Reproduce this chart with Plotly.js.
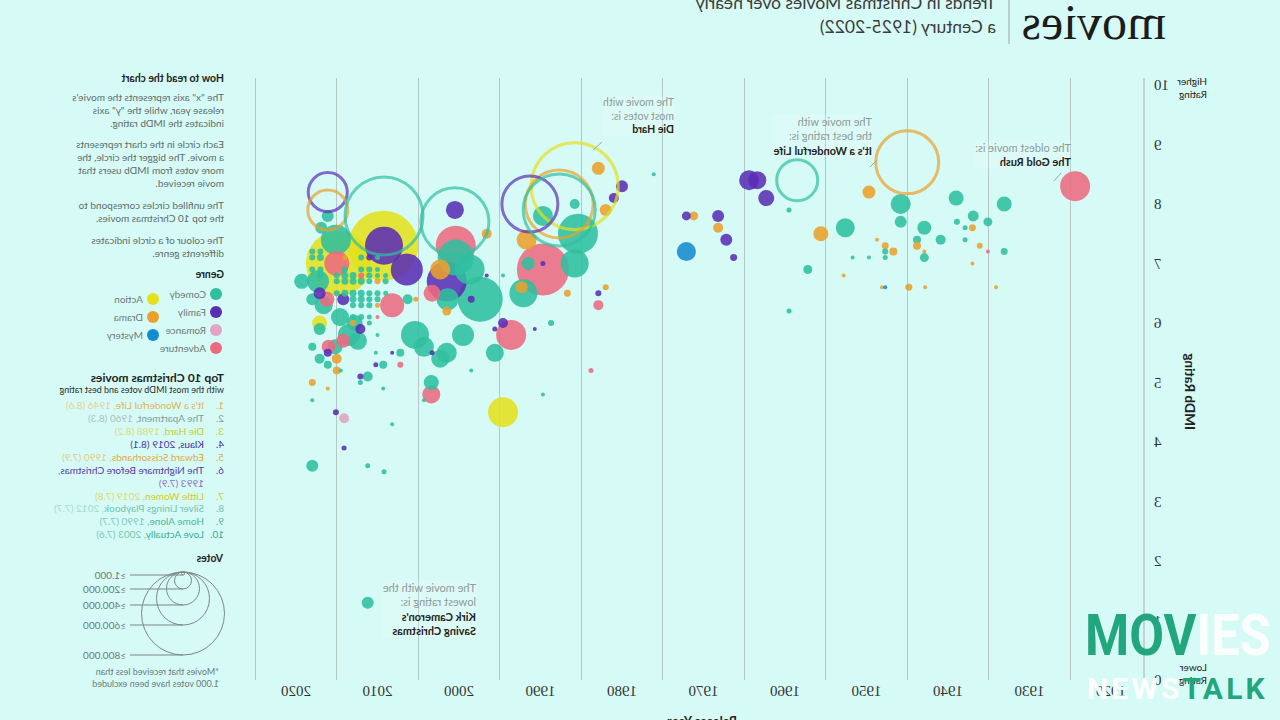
<!DOCTYPE html>
<html><head><meta charset="utf-8">
<script src="https://cdn.plot.ly/plotly-3.0.1.min.js"></script>
<style>
html,body{margin:0;padding:0;background:#d6faf5;width:1280px;height:720px;overflow:hidden;position:relative}
#chart{position:absolute;left:0;top:0;width:1280px;height:720px;transform:scaleX(-1);transform-origin:640px 360px}
#wm{position:absolute;left:1085px;top:606px;font-family:Roboto,"DejaVu Sans",sans-serif;font-weight:700;pointer-events:none}
#wm .l1{position:absolute;left:0;top:0;font-size:58px;line-height:58px;letter-spacing:0px;white-space:nowrap;transform:scaleX(0.87);transform-origin:0 0}
#wm .l2{position:absolute;left:2px;top:68px;font-size:30px;line-height:30px;letter-spacing:3.2px;white-space:nowrap}
#wm .g{color:#22a67e}
#wm .w{color:#ffffff;opacity:.95}
</style></head><body>
<div id="chart"></div>
<div id="wm"><div class="l1"><span class="g">MOV</span><span class="w">IES</span></div><div class="l2"><span class="w">NEWS</span><span class="g">TALK</span></div></div>
<script>
// ---------------- DATA ----------------
const genreNames  = ['Comedy','Family','Romance','Adventure','Action','Drama','Mystery'];
const genreColors = ['#2fbf9f','#5a2db5','#e2a3c4','#ec6a80','#e4e01c','#eaa12c','#148bd0'];

// all movies (filled circles): release year, IMDb rating, votes, genre
const years = [
1924.4,1933.1,1933.1,1934.1,1935.1,1935.1,1936.1,1936.9,1937.0,1937.0,1937.9,1937.9,1938.9,1939.0,1940.9,1942.9,1942.9,1942.9,1943.8,1943.8,
1942.8,1944.8,1945.8,1945.8,1946.7,1947.7,1947.7,1947.7,1948.1,1947.7,1948.7,1949.7,1949.7,1951.7,1952.8,1952.6,1955.6,1957.2,1959.5,1959.5,
1962.3,1963.4,1964.4,1966.3,1967.2,1968.2,1968.2,1971.2,1972.1,1972.1,1976.1,1982.9,1980.0,1981.0,1982.0,1985.8,1989.7,1985.4,1991.7,1989.7,
1991.5,1989.7,1985.8,1992.1,1992.3,1986.7,1997.4,1998.5,1999.5,1994.6,1995.6,1993.6,1995.6,1988.7,1990.7,1982.0,1982.9,1982.9,1983.8,1989.7,
1998.5,1996.6,1994.6,1996.6,1994.6,2000.4,2000.4,1998.7,2001.5,2002.3,2000.5,2003.3,2001.4,2001.5,2001.5,2002.3,2003.3,2003.4,2003.4,2004.3,
2008.2,2006.3,2005.3,2005.4,2004.3,2009.3,2014.8,2009.2,2006.4,2015.1,2016.1,2016.9,2015.0,2019.3,2017.3,2018.0,2017.1,2016.2,2016.6,2014.2,
2013.5,2012.4,2012.8,2014.6,2012.1,2013.0,2017.1,2017.1,2016.0,2014.2,2015.2,2018.0,2017.1,2016.1,2015.0,2016.1,2015.0,2014.5,2012.1,2011.2,
2012.1,2007.2,2007.2,2010.2,2010.2,2009.3,2008.2,2018.0,2016.1,2018.0,2015.1,2014.1,2008.2,2009.3,2014.1,2018.0,2011.2,2009.2,2011.2,
2018,2017,2018,2017,2014,2012,2011,2010,2018,2017,2014,2012,2011,2010,2017,2015,2014,2013,2012,2011,2010,2009,
2015,2014,2013,2012,2011,2010,2009,2015,2014,2013,2012,2011,2010,2009,2013,2012,2011,2010,2013,2012,2011,2010,2013,2012,2011,2011,2010,2010];
const ratings = [
8.3,8.0,7.2,6.6,7.7,7.2,7.3,7.8,7.6,7.0,7.6,7.4,7.7,8.1,7.4,7.6,7.1,7.2,7.4,7.3,
6.6,6.6,8.0,7.7,7.2,7.3,7.2,7.1,6.6,6.6,7.4,8.2,7.1,7.1,6.8,7.6,7.5,6.9,7.9,6.2,
8.1,8.4,8.4,7.1,7.4,7.6,7.8,7.8,7.8,7.2,8.5,8.6,8.3,8.1,7.9,8.0,7.8,7.5,7.4,6.9,
7.0,7.0,7.0,6.5,6.6,6.5,6.4,6.4,5.8,6.0,5.9,5.8,5.5,6.0,5.9,6.6,6.5,6.3,5.2,4.8,
5.2,6.8,6.8,7.5,4.5,7.3,7.1,6.9,6.7,6.9,7.9,6.5,6.4,6.2,5.5,5.4,5.5,5.0,4.8,4.7,
6.3,6.4,6.4,5.8,5.6,7.3,7.0,7.3,6.9,7.4,7.8,7.6,7.0,6.7,6.7,6.4,6.5,6.4,6.3,6.4,
5.8,5.7,6.0,6.1,5.9,6.0,6.0,5.9,5.6,5.7,5.6,5.6,5.4,5.5,5.4,5.3,5.2,5.2,5.1,5.1,
5.0,5.3,5.5,5.3,5.5,5.3,5.5,5.0,4.9,4.7,4.5,4.4,4.3,4.9,3.9,3.6,3.6,3.5,1.3,
7.2,7.2,7.1,7.1,7.1,7.1,7.1,7.1,6.9,6.9,6.9,6.9,6.9,6.9,6.8,6.8,6.8,6.8,6.8,6.8,6.8,6.8,
6.7,6.7,6.7,6.7,6.7,6.7,6.7,6.5,6.5,6.5,6.5,6.5,6.5,6.5,6.4,6.4,6.4,6.4,6.3,6.3,6.3,6.3,6.1,6.1,6.1,6.0,5.8,6.1];
const votes = [
107000,26800,5800,1900,9600,1100,4300,14400,5800,1900,3000,3000,4300,26800,11900,23300,9600,1900,7600,7600,
1100,5800,47600,17100,7600,5800,4300,3000,1100,1100,1900,20100,1900,1900,1900,43000,26800,9600,3000,3000,
30500,38600,47600,5800,17100,11900,17100,9600,9600,43000,1900,20100,17100,11900,17100,11900,47600,190000,47600,322000,
20100,3000,93000,93000,17100,5800,241000,5800,57600,11900,3000,107000,38600,4300,1900,4300,4300,11900,3000,1900,
1100,1900,1900,11900,107000,190000,154000,107000,190000,47600,38600,34000,57600,9600,47600,38600,3000,26800,38600,1900,
68500,11900,3000,93000,47600,583000,500000,172000,122000,107000,17100,17100,74000,26800,57600,17100,17100,26800,38600,17100,
57600,38600,30000,38600,11900,4300,26800,17100,23300,23300,26800,7600,11900,7600,11900,7600,7600,1900,4300,11900,
3000,4300,7600,3000,1900,7600,1900,5800,1900,1900,4300,11900,1900,1900,3000,17100,3000,3000,17100,
4300,4300,4300,5800,3000,4300,4300,3000,4300,4300,4300,4300,4300,3000,4300,4300,5800,5800,4300,4300,3000,3000,
4300,5800,5800,5800,4300,4300,4300,4300,5800,5800,5800,4300,4300,3000,5800,5800,4300,4300,4300,4300,4300,3000,4300,4300,3000,3000,1900,1900];
const genres = [
'Adventure','Comedy','Comedy','Drama','Comedy','Adventure','Drama','Comedy','Drama','Drama','Comedy','Comedy','Comedy','Comedy','Comedy','Comedy','Comedy','Drama','Comedy','Drama',
'Drama','Drama','Comedy','Comedy','Drama','Drama','Comedy','Comedy','Drama','Mystery','Drama','Drama','Comedy','Comedy','Drama','Comedy','Drama','Comedy','Comedy','Comedy',
'Family','Family','Family','Family','Family','Drama','Family','Drama','Family','Mystery','Comedy','Drama','Family','Family','Drama','Comedy','Comedy','Comedy','Drama','Adventure',
'Comedy','Family','Comedy','Comedy','Drama','Drama','Comedy','Family','Comedy','Family','Family','Adventure','Comedy','Comedy','Family','Drama','Family','Adventure','Adventure','Comedy',
'Comedy','Family','Comedy','Drama','Action','Adventure','Comedy','Comedy','Family','Drama','Family','Adventure','Comedy','Drama','Comedy','Comedy','Family','Comedy','Adventure','Comedy',
'Adventure','Comedy','Drama','Comedy','Comedy','Action','Action','Family','Family','Comedy','Comedy','Comedy','Adventure','Comedy','Comedy','Comedy','Family','Adventure','Comedy','Family',
'Comedy','Comedy','Comedy','Comedy','Family','Drama','Action','Comedy','Adventure','Adventure','Comedy','Comedy','Comedy','Family','Drama','Comedy','Drama','Comedy','Family','Comedy',
'Comedy','Adventure','Comedy','Family','Comedy','Comedy','Family','Drama','Drama','Comedy','Family','Romance','Comedy','Comedy','Family','Comedy','Comedy','Comedy','Comedy',
'Comedy','Comedy','Comedy','Comedy','Drama','Comedy','Family','Comedy','Comedy','Comedy','Comedy','Comedy','Comedy','Comedy','Comedy','Comedy','Comedy','Comedy','Adventure','Comedy','Comedy','Comedy',
'Comedy','Comedy','Comedy','Comedy','Comedy','Drama','Comedy','Comedy','Comedy','Comedy','Comedy','Comedy','Comedy','Comedy','Comedy','Comedy','Comedy','Comedy','Comedy','Comedy','Comedy','Drama','Comedy','Comedy','Comedy','Comedy','Comedy','Adventure'];

// top 10 Christmas movies (unfilled circles)
const topTitles  = ["It's a Wonderful Life","The Apartment","Die Hard","Klaus","Edward Scissorhands","The Nightmare Before Christmas","Little Women","Silver Linings Playbook","Home Alone","Love Actually"];
const topLabelYears   = [1946,1960,1988,2019,1990,1993,2019,2012,1990,2003];
const topLabelRatings = ['8.6','8.3','8.2','8.1','7.9','7.9','7.8','7.7','7.7','7.6'];
const topX      = [1945.0,1958.5,1985.8,2016.1,1987.7,1991.3,2016.1,2009.2,1987.7,2000.5];
const topY      = [8.7,8.4,8.3,8.2,8.0,8.0,7.9,7.8,7.9,7.7];
const topVotes  = [472000,200000,900000,181000,550000,373000,190000,724000,617000,550000];
const topGenres = ['Drama','Comedy','Action','Family','Drama','Family','Drama','Comedy','Comedy','Comedy'];

const xTickYears = [1920,1930,1940,1950,1960,1970,1980,1990,2000,2010,2020];
const xGridYears = [1925,1935,1945,1955,1965,1975,1985,1995,2005,2015,2025];
const yTicks = [0,1,2,3,4,5,6,7,8,9,10];
const voteLegendLabels = ['≥1.000','≥200.000','≥400.000','≥600.000','≥800.000'];

// ---------------- LAYOUT HELPERS ----------------
const L = 137, R = 1040, T = 78, B = 680;
const px = X => (X - L) / (R - L);
const py = Y => (B - Y) / (B - T);
const colorOf = g => genreColors[genreNames.indexOf(g)];
const K = 0.0917;               // px diameter per sqrt(vote)
const sizeref = 2 / (K * K);

const order = votes.map((v, i) => i).sort((a, b) => votes[b] - votes[a]);

const filled = {
  type: 'scatter', mode: 'markers', hoverinfo: 'skip',
  x: order.map(i => years[i]), y: order.map(i => ratings[i]),
  marker: {
    size: order.map(i => votes[i]), sizemode: 'area', sizeref: sizeref, sizemin: 2,
    color: order.map(i => colorOf(genres[i])), opacity: 0.88, line: {width: 0}
  }
};
const rings = {
  type: 'scatter', mode: 'markers', hoverinfo: 'skip',
  x: topX, y: topY, text: topTitles,
  marker: {
    symbol: 'circle-open', size: topVotes, sizemode: 'area', sizeref: sizeref,
    color: topGenres.map(colorOf), line: {width: 3}
  }
};

const gray = '#8c9c99', dark = '#1f2422', FONT = 'Lato, "Open Sans", sans-serif';
const ann = [];
function txt(X, Y, text, opt) {
  ann.push(Object.assign({
    xref: 'paper', yref: 'paper', x: px(X), y: py(Y), text: text, showarrow: false,
    xanchor: 'left', yanchor: 'middle', align: 'left', borderpad: 0,
    font: {family: FONT, size: 10, color: gray}
  }, opt || {}));
}

// title block
txt(113, 22, 'movies', {font: {family: '"Liberation Serif", "DejaVu Serif", serif', size: 50, color: '#1c1c1c'}, yanchor: 'middle'});
txt(283, 2, 'Trends in Christmas Movies over nearly', {font: {family: FONT, size: 17.5, color: '#3c3c3c'}});
txt(283, 27, 'a Century (1925-2022)', {font: {family: FONT, size: 17.5, color: '#3c3c3c'}});

// axis texts
txt(72, 87, 'Higher<br>Rating', {font: {family: FONT, size: 10, color: dark}});
txt(72, 673, 'Lower<br>Rating', {font: {family: FONT, size: 10, color: dark}});
txt(90, 392, '<b>IMDb Rating</b>', {xanchor: 'center', textangle: -90, font: {family: FONT, size: 13.5, color: dark}});
txt(578, 721, '<b>Release Year</b>', {xanchor: 'center', font: {family: FONT, size: 12.5, color: dark}});

// in-plot notes
const noteBg = 'rgba(255,255,255,0.16)';
txt(605, 116, 'The movie with<br>most votes is:<br><b style="color:#1f2422">Die Hard</b>', {font: {family: FONT, size: 10.5, color: gray}, bgcolor: noteBg});
txt(407, 136, 'The movie with<br>the best rating is:<br><b style="color:#1f2422">It\'s a Wonderful Life</b>', {font: {family: FONT, size: 11, color: gray}, bgcolor: noteBg});
txt(208, 154.5, 'The oldest movie is:<br><b style="color:#1f2422">The Gold Rush</b>', {font: {family: FONT, size: 11, color: gray}, bgcolor: noteBg});
txt(803, 609, 'The movie with the<br>lowest rating is:<br><b style="color:#1f2422">Kirk Cameron\'s<br>Saving Christmas</b>', {font: {family: FONT, size: 11, color: gray}, bgcolor: noteBg});

// right panel
const PX = 1055, head = {family: FONT, size: 10.5, color: dark};
const body = {family: FONT, size: 10, color: '#5f6e6b'};
txt(PX, 78, '<b>How to read the chart</b>', {font: head});
txt(PX, 110, 'The "x" axis represents the movie\'s<br>release year, while the "y" axis<br>indicates the IMDb rating.', {font: body});
txt(PX, 163.5, 'Each circle in the chart represents<br>a movie. The bigger the circle, the<br>more votes from IMDb users that<br>movie received.', {font: body});
txt(PX, 211.5, 'The unfilled circles correspond to<br>the top 10 Christmas movies.', {font: body});
txt(PX, 246.5, 'The colour of a circle indicates<br>differents genre.', {font: body});
txt(PX, 274, '<b>Genre</b>', {font: head});

const shapes = [];
const legendPos = {Comedy: [1064, 294], Family: [1064, 312], Romance: [1064, 330], Adventure: [1064, 348],
                   Action: [1127, 299], Drama: [1127, 317], Mystery: [1127, 335]};
genreNames.forEach(g => {
  const p = legendPos[g];
  shapes.push({type: 'circle', xref: 'paper', yref: 'paper', xsizemode: 'pixel', ysizemode: 'pixel',
    xanchor: px(p[0]), yanchor: py(p[1]), x0: -6, x1: 6, y0: -6, y1: 6,
    fillcolor: colorOf(g), line: {width: 0}});
  txt(p[0] + 9, p[1], g, {font: {family: FONT, size: 10, color: '#6d7a78'}});
});

txt(PX, 377, '<b>Top 10 Christmas movies</b>', {font: {family: FONT, size: 12, color: dark}});
txt(PX, 389, 'with the most IMDb votes and best rating', {font: {family: FONT, size: 9, color: '#2a2f2e'}});
const listStrong = ['#e0b458','#7f9f99','#c5cf36','#3a2a98','#deac3c','#5736ad','#d6ca1c','#72c4b2','#4fb5a3','#38ae99'];
const listLight  = ['#ead09a','#a8c3bd','#d8e07e','#4b3ca3','#e8c987','#8a72c6','#e2d96e','#a4dace','#84c9bb','#78c7b7'];
const rowY = [405, 418, 431, 443.5, 456.5, 476.5, 495.5, 508.5, 521, 534];
topTitles.forEach((t, i) => {
  const firstY = i === 5 ? 470 : rowY[i];
  txt(PX, firstY, (i + 1) + '.', {font: {family: FONT, size: 10, color: listStrong[i]}});
  const rest = topLabelYears[i] + ' (' + topLabelRatings[i] + ')';
  const sep = i === 5 ? ',<br>' : ', ';
  txt(1075, rowY[i], '<span style="color:' + listStrong[i] + '">' + t + '</span><span style="color:' + listLight[i] + '">' + sep + rest + '</span>',
      {font: {family: FONT, size: 10, color: listStrong[i]}});
});

txt(PX, 558, '<b>Votes</b>', {font: head});
const legendCirclePx = [3, 17, 33, 53, 83];
const legendTop = 572, legendCx = 1097;
legendCirclePx.forEach((d, i) => {
  shapes.push({type: 'circle', xref: 'paper', yref: 'paper', xsizemode: 'pixel', ysizemode: 'pixel',
    xanchor: px(legendCx), yanchor: py(legendTop + d / 2), x0: -d / 2, x1: d / 2, y0: -d / 2, y1: d / 2,
    line: {color: '#7d8786', width: 1}, fillcolor: 'rgba(0,0,0,0)'});
  const ly = legendTop + d;
  shapes.push({type: 'line', xref: 'paper', yref: 'paper', x0: px(legendCx), x1: px(1150), y0: py(ly), y1: py(ly),
    line: {color: '#7d8786', width: 1}});
  txt(1153, ly, voteLegendLabels[i], {font: {family: FONT, size: 10, color: '#6d7a78'}});
});
txt(1060, 677, '*Movies that received less than<br>1.000 votes have been excluded', {font: {family: FONT, size: 9, color: '#6d7a78'}});

// pointer ticks of the notes
[[678, 142, 687, 150], [403, 160, 410, 167], [219, 173, 226, 181]].forEach(s => {
  shapes.push({type: 'line', xref: 'paper', yref: 'paper', x0: px(s[0]), y0: py(s[1]), x1: px(s[2]), y1: py(s[3]),
    line: {color: '#9aa9a6', width: 1}});
});
// title divider
shapes.push({type: 'line', xref: 'paper', yref: 'paper', x0: px(271), x1: px(271), y0: py(0), y1: py(44), line: {color: '#9aa3a1', width: 1}});

const layout = {
  width: 1280, height: 720, showlegend: false,
  paper_bgcolor: '#d6faf5', plot_bgcolor: '#d6faf5',
  margin: {l: L, r: 1280 - R, t: T, b: 720 - B, pad: 0},
  xaxis: {range: [1916.07, 2026.87], tickmode: 'array', tickvals: xTickYears, ticktext: xTickYears.map(String),
    showgrid: false, zeroline: false, showline: false, ticks: '',
    tickfont: {family: '"Liberation Serif", serif', size: 15, color: '#333'},
    minor: {tickmode: 'array', tickvals: xGridYears, showgrid: true, gridcolor: '#b7c7c3', gridwidth: 1, ticks: ''}},
  yaxis: {range: [0, 10.118], tickmode: 'array', tickvals: yTicks, ticktext: yTicks.map(String),
    showgrid: false, zeroline: false, showline: true, linecolor: '#c3d4d0', linewidth: 2, ticks: '',
    ticklabelstandoff: 6,
    tickfont: {family: '"Liberation Serif", serif', size: 15, color: '#333'}},
  annotations: ann, shapes: shapes
};

Plotly.newPlot('chart', [filled, rings], layout, {staticPlot: true, displayModeBar: false});
</script>
</body></html>
